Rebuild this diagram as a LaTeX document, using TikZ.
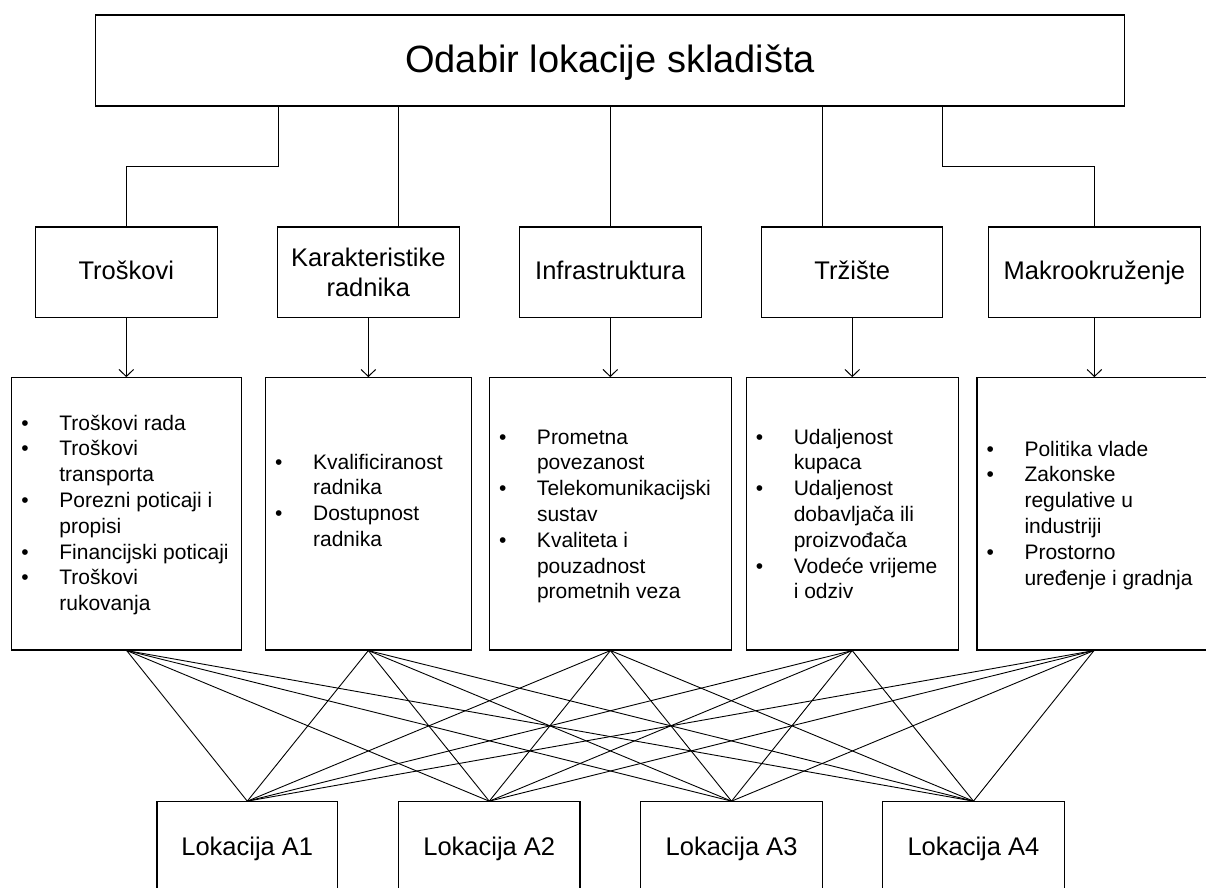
\documentclass[tikz,border=0pt]{standalone}
\usepackage{fontspec}
\setmainfont{Liberation Sans}
\usetikzlibrary{arrows.meta}
\newcommand\blist[1]{\begin{tabular}[t]{@{}p{38pt}@{}l@{}}#1\end{tabular}}
\begin{document}
\begin{tikzpicture}[x=1pt,y=-1pt,
  box/.style={draw, line width=1.1pt, rectangle, inner sep=0pt, align=center},
  topbox/.style={box, minimum width=1028.8pt, minimum height=91pt, font=\fontsize{38}{44}\selectfont},
  catbox/.style={box, minimum height=90.3pt, font=\fontsize{25.5}{30}\selectfont},
  oneline/.style={text height=15.6pt, text depth=0pt},
  detbox/.style={box, minimum height=272.3pt},
  locbox/.style={box, minimum height=93.6pt, font=\fontsize{25.5}{30}\selectfont, text height=13pt, text depth=0pt},
  listtext/.style={inner sep=0pt, anchor=base west, font=\fontsize{21}{25.8}\selectfont},
  conn/.style={draw, line width=1pt},
  arr/.style={conn, -{Straight Barb[length=7pt,width=14.6pt,line width=1pt]}},
  fan/.style={draw, line width=0.9pt}
]
\useasboundingbox (0,0) rectangle (1206,887);
\clip (0,0) rectangle (1206,887);
\fill[white] (0,0) rectangle (1206,887);

% top
\node[topbox, text height=24.4pt, text depth=0pt] (top) at (610.1,60.5) {Odabir lokacije skladišta};

% categories
\node[catbox, oneline, minimum width=182.2pt] (l1) at (126.3,272.15) {Troškovi};
\node[catbox, minimum width=181.7pt] (l2) at (368.35,272.15) {Karakteristike\\radnika};
\node[catbox, oneline, minimum width=182pt] (l3) at (610.3,272.15) {Infrastruktura};
\node[catbox, oneline, minimum width=181.3pt] (l4) at (852.25,272.15) {Tržište};
\node[catbox, oneline, minimum width=211.8pt] (l5) at (1094.4,272.15) {Makrookruženje};

% connectors from top
\coordinate (c1) at (278.2,106);
\coordinate (c2) at (398.8,106);
\coordinate (c3) at (610.2,106);
\coordinate (c4) at (822.3,106);
\coordinate (c5) at (942.9,106);
\draw[conn] (c1) -- ++(0,60) -| (l1.north);
\draw[conn] (c2) -- (c2 |- l2.north);
\draw[conn] (c3) -- (c3 |- l3.north);
\draw[conn] (c4) -- (c4 |- l4.north);
\draw[conn] (c5) -- ++(0,60) -| (l5.north);

% detail boxes
\node[detbox, minimum width=229.6pt] (d1) at (126.7,513.85) {};
\node[detbox, minimum width=205.5pt] (d2) at (368.35,513.85) {};
\node[detbox, minimum width=241.9pt] (d3) at (610.45,513.85) {};
\node[detbox, minimum width=212.2pt] (d4) at (852.2,513.85) {};
\node[detbox, minimum width=234pt] (d5) at (1094,513.85) {};

\node[listtext] (t1) at (21.2,430) {\blist{%
\textbullet & Troškovi rada\\
\textbullet & Troškovi\\
 & transporta\\
\textbullet & Porezni poticaji i\\
 & propisi\\
\textbullet & Financijski poticaji\\
\textbullet & Troškovi\\
 & rukovanja}};
\node[listtext] (t2) at (274.9,469) {\blist{%
\textbullet & Kvalificiranost\\
 & radnika\\
\textbullet & Dostupnost\\
 & radnika}};
\node[listtext] (t3) at (498.8,444) {\blist{%
\textbullet & Prometna\\
 & povezanost\\
\textbullet & Telekomunikacijski\\
 & sustav\\
\textbullet & Kvaliteta i\\
 & pouzadnost\\
 & prometnih veza}};
\node[listtext] (t4) at (755.6,444) {\blist{%
\textbullet & Udaljenost\\
 & kupaca\\
\textbullet & Udaljenost\\
 & dobavljača ili\\
 & proizvođača\\
\textbullet & Vodeće vrijeme\\
 & i odziv}};
\node[listtext] (t5) at (986.3,456) {\blist{%
\textbullet & Politika vlade\\
\textbullet & Zakonske\\
 & regulative u\\
 & industriji\\
\textbullet & Prostorno\\
 & uređenje i gradnja}};

% arrows
\foreach \i in {1,...,5} {
  \draw[arr] (l\i.south) -- (l\i.south |- d\i.north);
}

% locations
\node[locbox, minimum width=180.7pt] (a1) at (247.3,848.5) {Lokacija A1};
\node[locbox, minimum width=181.5pt] (a2) at (489.25,848.5) {Lokacija A2};
\node[locbox, minimum width=181.5pt] (a3) at (731.55,848.5) {Lokacija A3};
\node[locbox, minimum width=182.3pt] (a4) at (973.45,848.5) {Lokacija A4};

% fan connections
\foreach \i in {1,...,5} {
  \foreach \j in {1,...,4} {
    \draw[fan] (d\i.south) -- (a\j.north);
  }
}
\end{tikzpicture}
\end{document}
